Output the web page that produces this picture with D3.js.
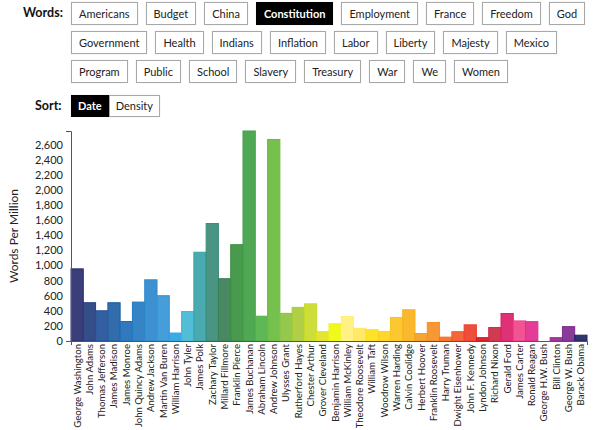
<!DOCTYPE html>
<html>
<head>
<meta charset="utf-8">
<script src="https://cdn.jsdelivr.net/npm/d3@7"></script>
<style>
  body { margin: 0; background: #fff; font-family: Lato, "Open Sans", sans-serif; color: #222; }
  #root { position: relative; width: 600px; height: 430px; overflow: hidden; }
  .lbl { position: absolute; font-weight: bold; font-size: 12.5px; color: #111; }
  #words { position: absolute; left: 71px; top: 2px; width: 525px; display: flex; flex-wrap: wrap; column-gap: 8px; row-gap: 6px; }
  .btn { box-sizing: border-box; height: 23px; line-height: 21px; padding: 0 7px; border: 1px solid #a8a8a8; font-size: 11px; color: #222; background: #fff; white-space: nowrap; box-shadow: 0 0 1px rgba(0,0,0,0.15); }
  .btn.on { background: #000; color: #fff; font-weight: bold; border-color: #000; }
  #sort { position: absolute; left: 71px; top: 95px; display: flex; }
  #sort .btn { height: 22px; line-height: 20px; padding: 0 6px; }
  svg { position: absolute; left: 0; top: 0; }
  .axis text { font-family: Lato, sans-serif; font-size: 11px; fill: #222; }
  .axis.xa text { font-size: 9.6px; }
  .axis path, .axis line { stroke: #555; }
</style>
</head>
<body>
<div id="root">
  <div class="lbl" style="left:23px; top:5px;">Words:</div>
  <div id="words"></div>
  <div class="lbl" style="left:35px; top:98px;">Sort:</div>
  <div id="sort"></div>
</div>
<script>
const words = ["Americans","Budget","China","Constitution","Employment","France","Freedom","God",
  "Government","Health","Indians","Inflation","Labor","Liberty","Majesty","Mexico",
  "Program","Public","School","Slavery","Treasury","War","We","Women"];
const selectedWord = "Constitution";
const sortOptions = ["Date","Density"];
const selectedSort = "Date";

const presidents = ["George Washington","John Adams","Thomas Jefferson","James Madison","James Monroe",
  "John Quincy Adams","Andrew Jackson","Martin Van Buren","William Harrison","John Tyler","James Polk",
  "Zachary Taylor","Millard Fillmore","Franklin Pierce","James Buchanan","Abraham Lincoln","Andrew Johnson",
  "Ulysses Grant","Rutherford Hayes","Chester Arthur","Grover Cleveland","Benjamin Harrison",
  "William McKinley","Theodore Roosevelt","William Taft","Woodrow Wilson","Warren Harding",
  "Calvin Coolidge","Herbert Hoover","Franklin Roosevelt","Harry Truman","Dwight Eisenhower",
  "John F. Kennedy","Lyndon Johnson","Richard Nixon","Gerald Ford","James Carter","Ronald Reagan",
  "George H.W. Bush","Bill Clinton","George W. Bush","Barack Obama"];
const wordsPerMillion = [955,507,400,507,258,515,810,600,105,390,1175,
  1555,825,1275,2780,328,2668,
  366,445,492,123,229,
  324,168,150,126,311,
  413,99,245,51,123,
  214,44,178,364,266,256,
  0,44,190,77];
const barColors = ["#2a2e6e","#243f80","#22509a","#1f5fa4","#1f6db8",
  "#2479c0","#2e88cc","#3595d6","#27a4e0","#43b7d3","#3aa3a9",
  "#3b8b7a","#387f54","#3a9140","#41a146","#50b247","#6abb3f",
  "#8bc43f","#a9cb37","#c9db2a","#e1e321","#eff80a",
  "#fff07a","#ffe75a","#ffe01a","#fdd41a","#fbc31f",
  "#f8b21c","#f59d1f","#f68e25","#f46f20","#f15a2b",
  "#ee3f2c","#d9161e","#cc2a45","#dc1f6a","#f0448a","#e12d8e",
  "#c0268e","#9a2a92","#7e2a8f","#1f2462"];
const yTickValues = [0,200,400,600,800,1000,1200,1400,1600,1800,2000,2200,2400,2600];
const yLabel = "Words Per Million";

// controls
d3.select("#words").selectAll("div").data(words).join("div")
  .attr("class", d => "btn" + (d === selectedWord ? " on" : ""))
  .text(d => d);
d3.select("#sort").selectAll("div").data(sortOptions).join("div")
  .attr("class", d => "btn" + (d === selectedSort ? " on" : ""))
  .text(d => d);

// chart
const svg = d3.select("#root").append("svg").attr("width", 600).attr("height", 430);
const x = d3.scaleBand().domain(presidents).range([71, 587]).padding(0);
const y = d3.scaleLinear().domain([0, d3.max(wordsPerMillion)]).range([341, 131]);

svg.append("g").selectAll("rect").data(presidents).join("rect")
  .attr("x", d => x(d))
  .attr("width", x.bandwidth())
  .attr("y", (d, i) => y(wordsPerMillion[i]))
  .attr("height", (d, i) => y(0) - y(wordsPerMillion[i]))
  .attr("fill", (d, i) => barColors[i])
  .attr("fill-opacity", 0.92)
  .attr("stroke", (d, i) => barColors[i])
  .attr("stroke-width", 1);

svg.append("g").attr("class", "axis").attr("transform", "translate(71,0)")
  .call(d3.axisLeft(y).tickValues(yTickValues).tickSizeInner(0).tickSizeOuter(5).tickPadding(8)
    .tickFormat(d3.format(",")));

const xAxis = svg.append("g").attr("class", "axis xa").attr("transform", "translate(0,341)")
  .call(d3.axisBottom(x).tickSizeInner(0).tickSizeOuter(4).tickPadding(0));
xAxis.selectAll("text")
  .attr("transform", "rotate(-90)")
  .attr("text-anchor", "end")
  .attr("x", -3)
  .attr("y", 0)
  .attr("dy", "0.35em");

svg.append("text")
  .attr("transform", "translate(18,236) rotate(-90)")
  .attr("text-anchor", "middle")
  .attr("font-family", "Lato, sans-serif")
  .attr("font-size", 12)
  .attr("fill", "#222")
  .text(yLabel);
</script>
</body>
</html>
